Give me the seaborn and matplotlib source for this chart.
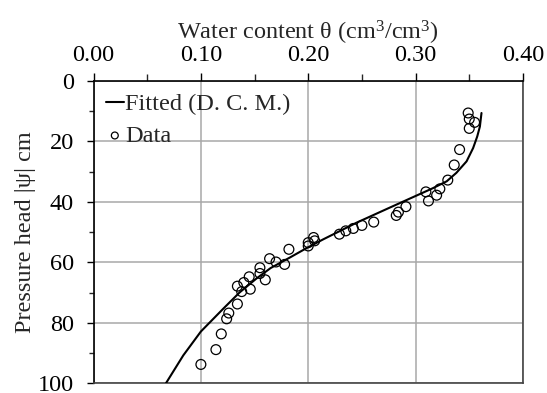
import matplotlib
matplotlib.use("Agg")
import matplotlib.pyplot as plt
from matplotlib.ticker import MultipleLocator, FormatStrFormatter
import seaborn as sns
import pandas as pd

# Measured data (water content theta, pressure head |psi|)
data_theta = [0.349, 0.350, 0.355, 0.350, 0.341, 0.336, 0.330, 0.3226, 0.3096,
              0.3196, 0.312, 0.291, 0.284, 0.282, 0.261, 0.250, 0.242, 0.235,
              0.229, 0.205, 0.206, 0.200, 0.200, 0.182, 0.164, 0.170, 0.178,
              0.155, 0.155, 0.145, 0.160, 0.140, 0.134, 0.146, 0.138, 0.134,
              0.126, 0.124, 0.119, 0.114, 0.100]
data_psi = [10.6, 12.6, 13.7, 15.7, 22.7, 27.8, 32.8, 35.7, 36.7,
            37.8, 39.7, 41.6, 43.4, 44.5, 46.7, 47.8, 48.8, 49.6,
            50.7, 51.8, 52.9, 53.5, 54.6, 55.7, 58.8, 59.9, 60.7,
            61.8, 63.7, 64.8, 65.8, 66.7, 67.9, 68.9, 69.7, 73.8,
            76.8, 78.7, 83.7, 88.9, 93.8]

# Fitted curve (D. C. M.)
fit_theta = [0.0675, 0.0836, 0.100, 0.121, 0.136, 0.152, 0.165, 0.183,
             0.1985, 0.214, 0.245, 0.276, 0.301, 0.316, 0.329, 0.338, 0.3475,
             0.3536, 0.3574, 0.3599, 0.3614]
fit_psi = [100.0, 90.8, 82.9, 75.3, 70.0, 65.3, 61.9, 58.4,
           55.3, 52.4, 46.9, 41.9, 37.9, 35.5, 33.2, 30.4, 26.6,
           22.2, 18.4, 15.1, 10.6]

x_ticks = [0.00, 0.10, 0.20, 0.30, 0.40]
y_ticks = [0, 20, 40, 60, 80, 100]

sns.set_theme(style="white")
plt.rcParams['font.family'] = ['Liberation Serif', 'DejaVu Serif']
plt.rcParams['mathtext.fontset'] = 'custom'
plt.rcParams['mathtext.rm'] = 'Liberation Serif'
plt.rcParams['mathtext.it'] = 'Liberation Serif:italic'

FS = 17.5
fig = plt.figure(figsize=(5.47, 3.93), dpi=100)
ax = fig.add_axes([0.171, 0.025, 0.785, 0.769])

df_fit = pd.DataFrame({"theta": fit_theta, "psi": fit_psi})
df_dat = pd.DataFrame({"theta": data_theta, "psi": data_psi})

sns.lineplot(data=df_fit, x="theta", y="psi", ax=ax, color="black", lw=1.5,
             estimator=None, sort=False, label="Fitted (D. C. M.)", zorder=3)
sns.scatterplot(data=df_dat, x="theta", y="psi", ax=ax, marker="o", s=50,
                facecolor="none", edgecolor="black", linewidth=0.9,
                label="Data", zorder=4)

ax.set_xlim(0, 0.40)
ax.set_ylim(100, 0)
ax.set_xticks(x_ticks)
ax.set_yticks(y_ticks)
ax.xaxis.set_major_formatter(FormatStrFormatter('%.2f'))
ax.xaxis.set_minor_locator(MultipleLocator(0.05))
ax.yaxis.set_minor_locator(MultipleLocator(10))
ax.xaxis.tick_top()
ax.xaxis.set_label_position('top')

ax.grid(True, which='major', color='#a8a8a8', lw=1.1)
ax.set_axisbelow(True)

ax.tick_params(axis='x', which='major', direction='out', length=6, width=1,
               labelsize=FS, pad=5, colors='black', top=True, bottom=False)
ax.tick_params(axis='x', which='minor', direction='out', length=5, width=1,
               top=True, bottom=False)
ax.tick_params(axis='y', which='major', direction='out', length=5, width=1,
               labelsize=FS, pad=9, colors='black', left=True)
ax.tick_params(axis='y', which='minor', direction='out', length=3.5, width=1,
               left=True)

for side in ['top', 'left']:
    ax.spines[side].set_color('black')
    ax.spines[side].set_linewidth(1.2)
for side in ['right', 'bottom']:
    ax.spines[side].set_color('#444444')
    ax.spines[side].set_linewidth(1.2)

ax.set_xlabel(r'Water content θ (cm$^3$/cm$^3$)', fontsize=FS, labelpad=4)
ax.set_ylabel('Pressure head |ψ| cm', fontsize=FS)
ax.yaxis.set_label_coords(-0.135, 0.5)

leg = ax.legend(loc='upper left', frameon=False, fontsize=FS, handlelength=0.75,
                handletextpad=0.05, borderaxespad=0.2, labelspacing=0.4,
                borderpad=0.3, markerscale=0.7)

fig.savefig("out.png", dpi=100)
